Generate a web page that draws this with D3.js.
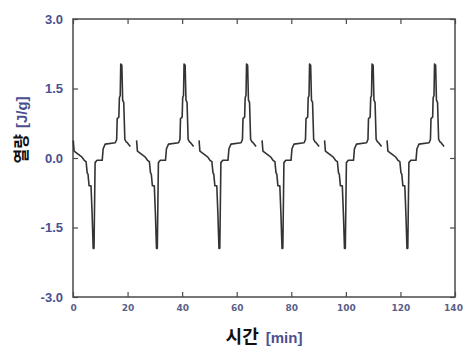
<!DOCTYPE html>
<html>
<head>
<meta charset="utf-8">
<script src="https://cdn.jsdelivr.net/npm/d3@7"></script>
<style>
  body { margin: 0; background: #fff; }
  svg { display: block; }
</style>
</head>
<body>
<div id="chart"></div>
<script>
// one cycle of the heat-flow trace (time relative to cycle start, min)
const cycleT = [0.1, 0.4, 2.6, 3.3, 4.1, 4.8, 5.2, 5.5, 5.9, 6.6, 7.0, 7.4, 7.7, 8.1, 8.8, 10.7,
  11.05, 11.8, 15.5, 16.0, 16.2, 16.8, 17.0, 17.3, 17.5, 17.9, 18.2, 18.6, 19.0, 19.5, 19.9, 21.0];
const cycleV = [0.38, 0.15, 0.05, 0.02, -0.05, -0.08, -0.32, -0.35, -0.6, -0.6, -1.2, -1.95, -1.95, -0.1, -0.05, -0.05,
  0.2, 0.3, 0.33, 0.4, 0.85, 0.88, 1.3, 1.35, 2.03, 2.0, 1.25, 1.2, 0.4, 0.35, 0.33, 0.25];
// start of each cycle, read from the peak positions
const cycleStarts = [0, 23.2, 46.1, 69.2, 92.1, 115];

const xTicks = [0, 20, 40, 60, 80, 100, 120, 140];
const yTicks = [-3.0, -1.5, 0.0, 1.5, 3.0];

const width = 463, height = 351;
const margin = { top: 19, right: 8, bottom: 54, left: 73 };

// segments with a gap between cycles
const series = [];
cycleStarts.forEach((s, k) => {
  cycleT.forEach((t, i) => series.push({ t: s + t, v: cycleV[i] }));
  if (k < cycleStarts.length - 1) series.push({ t: s + 22, v: null });
});

const x = d3.scaleLinear().domain([0, 140]).range([margin.left, width - margin.right]);
const y = d3.scaleLinear().domain([-3, 3]).range([height - margin.bottom, margin.top]);

const svg = d3.select("#chart").append("svg")
  .attr("width", width)
  .attr("height", height);

const frame = "#4a4a4a";
const tickBlue = "#4b4f8f";
const fmtY = d => d3.format(".1f")(d).replace("\u2212", "-");

// inner ticks on all four sides
svg.append("g")
  .attr("transform", `translate(0,${y(-3)})`)
  .call(d3.axisBottom(x).tickValues(xTicks).tickSize(-5).tickPadding(8).tickFormat(d3.format("d")))
  .call(g => g.select(".domain").remove())
  .call(g => g.selectAll(".tick line").attr("stroke", frame).attr("stroke-width", 1.2))
  .call(g => g.selectAll(".tick text")
    .attr("fill", "#5b5f88")
    .attr("font-family", "DejaVu Sans, sans-serif")
    .attr("font-size", 9)
    .attr("font-weight", "bold"))
  .call(g => g.selectAll(".tick text").filter(d => d === 140).attr("dx", -2));

svg.append("g")
  .attr("transform", `translate(0,${y(3)})`)
  .call(d3.axisTop(x).tickValues(xTicks).tickSize(-5).tickFormat(""))
  .call(g => g.select(".domain").remove())
  .call(g => g.selectAll(".tick line").attr("stroke", frame).attr("stroke-width", 1.2));

svg.append("g")
  .attr("transform", `translate(${x(0)},0)`)
  .call(d3.axisLeft(y).tickValues(yTicks).tickSize(-5).tickPadding(10).tickFormat(fmtY))
  .call(g => g.select(".domain").remove())
  .call(g => g.selectAll(".tick line").attr("stroke", frame).attr("stroke-width", 1.2))
  .call(g => g.selectAll(".tick text")
    .attr("fill", tickBlue)
    .attr("font-family", "Liberation Sans, Arial, sans-serif")
    .attr("font-size", 13)
    .attr("font-weight", "bold"));

svg.append("g")
  .attr("transform", `translate(${x(140)},0)`)
  .call(d3.axisRight(y).tickValues(yTicks).tickSize(-5).tickFormat(""))
  .call(g => g.select(".domain").remove())
  .call(g => g.selectAll(".tick line").attr("stroke", frame).attr("stroke-width", 1.2));

svg.append("rect")
  .attr("x", x(0))
  .attr("y", y(3))
  .attr("width", x(140) - x(0))
  .attr("height", y(-3) - y(3))
  .attr("fill", "none")
  .attr("stroke", frame)
  .attr("stroke-width", 1.5);

const line = d3.line()
  .defined(d => d.v !== null)
  .x(d => x(d.t))
  .y(d => y(d.v));

svg.append("path")
  .datum(series)
  .attr("fill", "none")
  .attr("stroke", "#333")
  .attr("stroke-width", 1.6)
  .attr("stroke-linejoin", "round")
  .attr("d", line);

// axis titles
const xt = svg.append("text")
  .attr("x", (x(0) + x(140)) / 2)
  .attr("y", 343)
  .attr("text-anchor", "middle")
  .attr("font-weight", "bold");
xt.append("tspan").attr("font-family", "Noto Sans CJK KR, sans-serif")
  .attr("font-size", 18).attr("fill", "#111").text("시간");
xt.append("tspan").attr("font-family", "Liberation Sans, Arial, sans-serif")
  .attr("font-size", 15).attr("fill", tickBlue).attr("dx", 7).text("[min]");

const yt = svg.append("text")
  .attr("transform", `translate(27,${130}) rotate(-90)`)
  .attr("text-anchor", "middle")
  .attr("font-weight", "bold");
yt.append("tspan").attr("font-family", "Noto Sans CJK KR, sans-serif")
  .attr("font-size", 16).attr("fill", "#111").text("열량");
yt.append("tspan").attr("font-family", "Liberation Sans, Arial, sans-serif")
  .attr("font-size", 15).attr("fill", tickBlue).attr("dx", 6).text("[J/g]");
</script>
</body>
</html>
